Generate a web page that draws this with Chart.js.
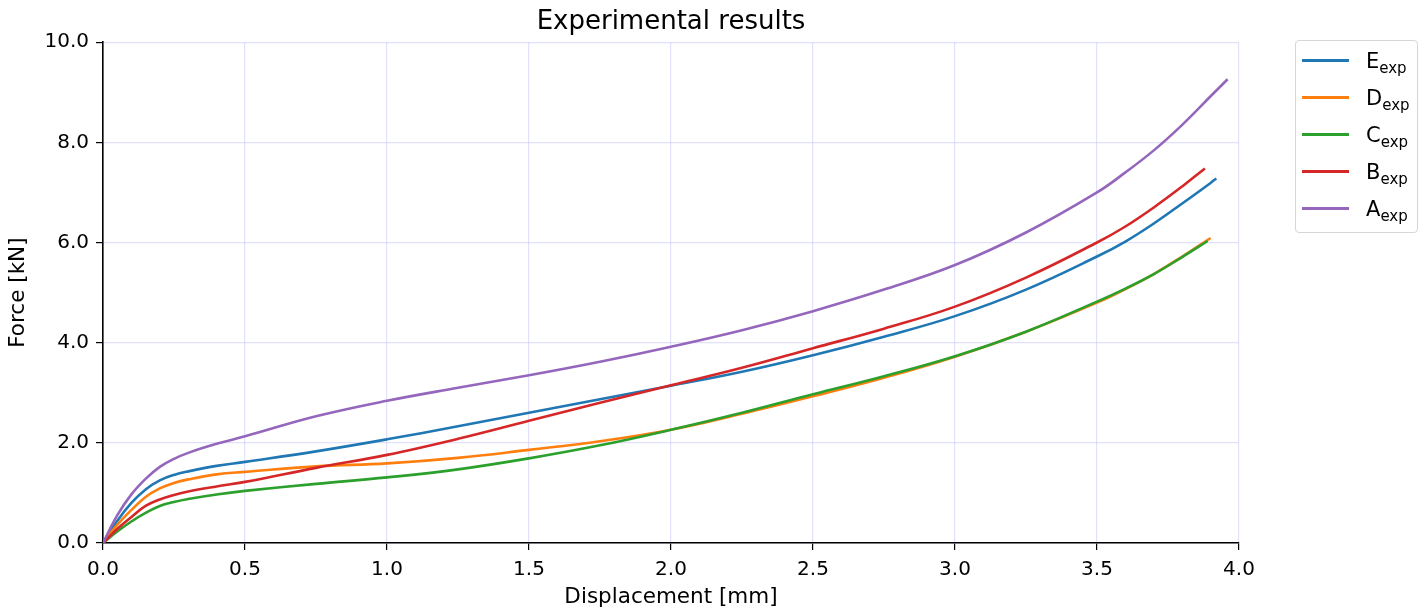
<!DOCTYPE html>
<html>
<head>
<meta charset="utf-8">
<script src="https://cdn.jsdelivr.net/npm/chart.js@4"></script>
<style>
  body { margin: 0; background: #fff; }
  #wrap { position: relative; width: 1427px; height: 612px; }
  #legend {
    position: absolute; left: 1295px; top: 40px; width: 123px; height: 193px;
    border: 1px solid #d6d6d6; border-radius: 4px; box-sizing: border-box;
    font-family: "DejaVu Sans", sans-serif; color: #000;
  }
  .row { position: absolute; left: 0; height: 30px; width: 120px; }
  .swatch { position: absolute; left: 6px; top: 13px; width: 47px; height: 3px; }
  .lbl { position: absolute; left: 70px; top: 5px; font-size: 21px; line-height: 21px; white-space: nowrap; }
  .lbl sub { font-size: 15px; line-height: 0; vertical-align: -5px; }
</style>
</head>
<body>
<div id="wrap">
  <canvas id="canvas" width="1427" height="612"></canvas>
  <div id="legend"></div>
</div>
<script>
// displacement [mm] sample points shared by all series
const xs = [0, 0.05, 0.1, 0.15, 0.2, 0.25, 0.3, 0.4, 0.5, 0.75, 1.0, 1.25, 1.5, 1.75, 2.0, 2.25, 2.5, 2.75, 3.0, 3.25, 3.5, 3.6, 3.7, 3.8];

const names = ["E", "D", "C", "B", "A"];
const colors = ["#1f77b4", "#ff7f0e", "#2ca02c", "#d62728", "#9467bd"];

// force [kN]
const forceE = [0, 0.44, 0.80, 1.07, 1.25, 1.36, 1.43, 1.54, 1.62, 1.83, 2.07, 2.33, 2.60, 2.87, 3.14, 3.42, 3.75, 4.12, 4.53, 5.06, 5.72, 6.02, 6.38, 6.78];
const forceD = [0, 0.36, 0.66, 0.92, 1.09, 1.20, 1.27, 1.37, 1.42, 1.53, 1.59, 1.70, 1.86, 2.03, 2.26, 2.58, 2.93, 3.30, 3.72, 4.22, 4.80, 5.07, 5.37, 5.72];
const forceC = [0, 0.23, 0.43, 0.60, 0.74, 0.82, 0.88, 0.97, 1.04, 1.18, 1.31, 1.47, 1.69, 1.95, 2.26, 2.60, 2.97, 3.33, 3.73, 4.22, 4.82, 5.08, 5.37, 5.71];
const forceB = [0, 0.28, 0.52, 0.74, 0.87, 0.96, 1.03, 1.13, 1.22, 1.50, 1.76, 2.08, 2.44, 2.80, 3.15, 3.50, 3.89, 4.28, 4.72, 5.30, 6.00, 6.32, 6.70, 7.12];
const forceA = [0, 0.55, 0.97, 1.28, 1.52, 1.68, 1.80, 1.98, 2.13, 2.53, 2.84, 3.10, 3.35, 3.62, 3.92, 4.25, 4.63, 5.06, 5.55, 6.20, 7.00, 7.40, 7.84, 8.35];

// last measured points of each test [displacement, force]
const tailE = [[3.9, 7.19], [3.92, 7.28]];
const tailD = [[3.90, 6.09]];
const tailC = [[3.89, 6.03]];
const tailB = [[3.88, 7.48]];
const tailA = [[3.9, 8.92], [3.96, 9.26]];

const xTicks = [0, 0.5, 1.0, 1.5, 2.0, 2.5, 3.0, 3.5, 4.0];
const yTicks = [0, 2, 4, 6, 8, 10];

const forces = [forceE, forceD, forceC, forceB, forceA];
const tails = [tailE, tailD, tailC, tailB, tailA];

function makePoints(f, tail) {
    let pts = xs.map((x, i) => ({ x: x, y: f[i] }));
    tail.forEach(p => pts.push({ x: p[0], y: p[1] }));
    return pts;
}

const datasets = names.map((n, i) => ({
    label: n + "exp",
    data: makePoints(forces[i], tails[i]),
    borderColor: colors[i],
    backgroundColor: colors[i],
    borderWidth: 2.6,
    pointRadius: 0,
    fill: false,
    tension: 0.4,
    order: names.length - i   // later series drawn on top, like matplotlib
}));

const font = "'DejaVu Sans', sans-serif";
const gridColor = "rgba(200, 200, 250, 0.55)";

const ctx = document.getElementById("canvas").getContext("2d");
const chart = new Chart(ctx, {
    type: "line",
    data: { datasets: datasets },
    options: {
        responsive: false,
        animation: false,
        layout: { padding: { left: 0, right: 188, top: 0, bottom: 0 } },
        plugins: {
            legend: { display: false },
            tooltip: { enabled: false },
            title: {
                display: true,
                fullSize: false,  // centre over the plot area
                text: "Experimental results",
                color: "#000",
                font: { family: font, size: 26, weight: "normal" },
                padding: { top: 7, bottom: 4 }
            }
        },
        scales: {
            x: {
                type: "linear",
                min: 0, max: 4,
                afterBuildTicks: axis => { axis.ticks = xTicks.map(v => ({ value: v })); },
                afterFit: axis => { axis.height = 69; },
                ticks: {
                    color: "#000",
                    font: { family: font, size: 20 },
                    padding: 8,
                    maxRotation: 0,
                    callback: v => v.toFixed(1)
                },
                grid: { color: gridColor, tickColor: "#000", tickLength: 7, lineWidth: 1.2 },
                border: { color: "#000", width: 1.6 },
                title: {
                    display: true, text: "Displacement [mm]", color: "#000",
                    font: { family: font, size: 21.5 }, padding: { top: 0, bottom: 2 }
                }
            },
            y: {
                type: "linear",
                min: 0, max: 10,
                afterBuildTicks: axis => { axis.ticks = yTicks.map(v => ({ value: v })); },
                afterFit: axis => { axis.width = 103; },
                ticks: {
                    color: "#000",
                    font: { family: font, size: 20 },
                    padding: 7,
                    callback: v => v.toFixed(1)
                },
                grid: { color: gridColor, tickColor: "#000", tickLength: 7, lineWidth: 1.2 },
                border: { color: "#000", width: 1.6 },
                title: {
                    display: true, text: "Force [kN]", color: "#000",
                    font: { family: font, size: 21.5 }, padding: { top: 6, bottom: 0 }
                }
            }
        }
    }
});

// legend with subscripts, built from the chart's own datasets
const legendDiv = document.getElementById("legend");
chart.data.datasets.forEach((ds, i) => {
    const row = document.createElement("div");
    row.className = "row";
    row.style.top = (5 + i * 37) + "px";
    row.innerHTML = '<div class="swatch" style="background:' + ds.borderColor + '"></div>' +
        '<div class="lbl">' + names[i] + '<sub>exp</sub></div>';
    legendDiv.appendChild(row);
});
</script>
</body>
</html>
